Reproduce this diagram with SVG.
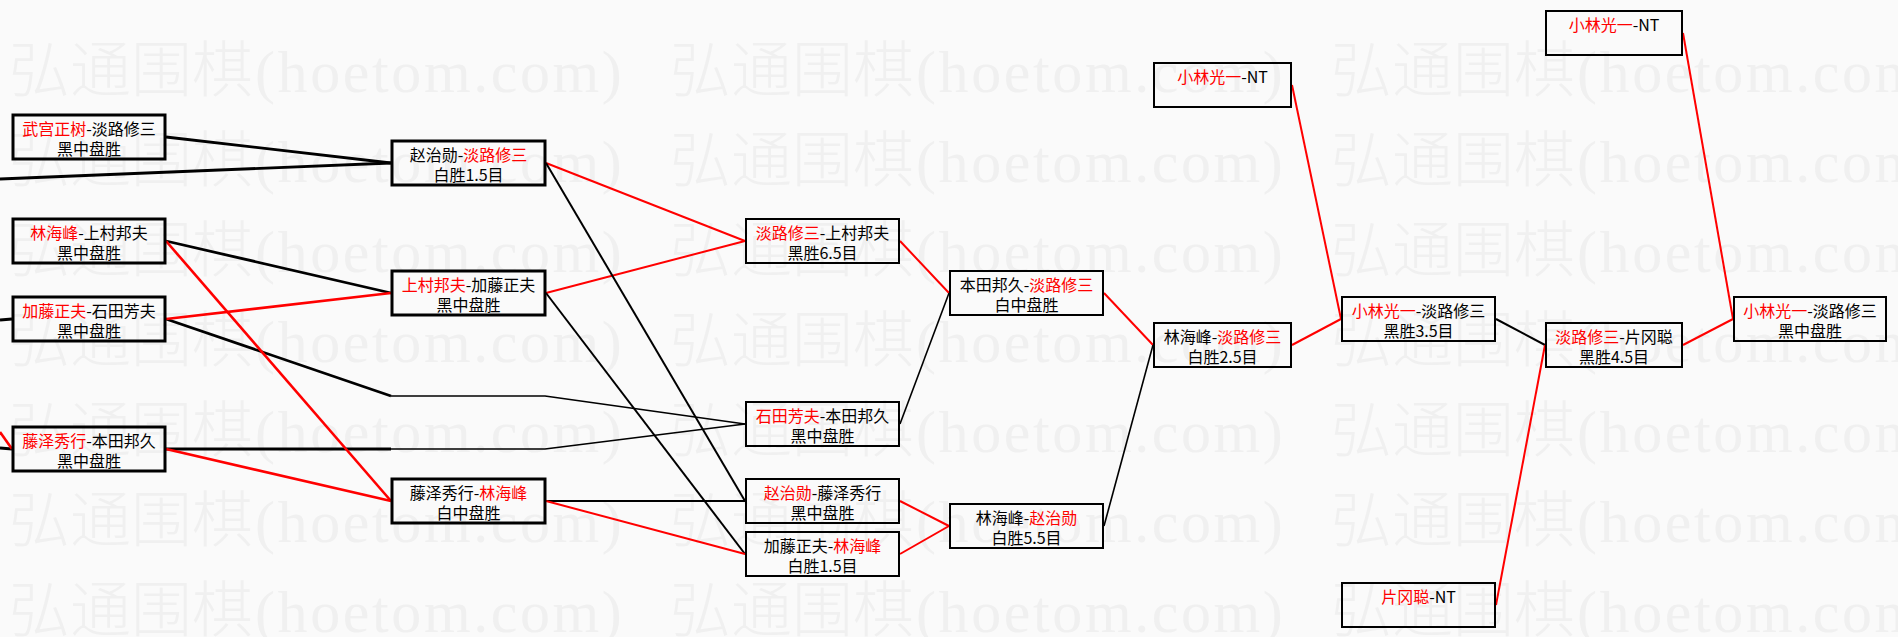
<svg xmlns="http://www.w3.org/2000/svg" xmlns:xlink="http://www.w3.org/1999/xlink" width="1898" height="637" viewBox="0 0 1898 637">
<style>
.bg{fill:#fafafa}
.wmc{font-family:"Noto Sans CJK SC",sans-serif;font-weight:300;font-size:61px;fill:#f0f0f0}
.wml{font-family:"Liberation Serif",serif;font-size:60px;letter-spacing:2.6px;fill:#f0f0f0}
.box{fill:none;stroke:#000;stroke-width:2}
.box3{fill:none;stroke:#000;stroke-width:3}
.t{font-family:"Noto Sans CJK SC",sans-serif;font-size:16px;fill:#000;text-anchor:middle}
.red{fill:#ff0000}
.c{fill:none;stroke-linejoin:round}
.k3{stroke:#000;stroke-width:2.8}
.k2{stroke:#000;stroke-width:2}
.k1{stroke:#000;stroke-width:1.6}
.r3{stroke:#ff0000;stroke-width:2.6}
.r2{stroke:#ff0000;stroke-width:2}
</style>
<defs>
<g id="wm">
<text class="wmc" x="0" y="0">弘通围棋</text>
<text class="wml" x="246" y="0">(hoetom.com)</text>
</g>
</defs>
<rect class="bg" x="0" y="0" width="1898" height="637"/>
<g id="watermark">
<use xlink:href="#wm" x="9" y="92"/><use xlink:href="#wm" x="670" y="92"/><use xlink:href="#wm" x="1331" y="92"/>
<use xlink:href="#wm" x="9" y="182"/><use xlink:href="#wm" x="670" y="182"/><use xlink:href="#wm" x="1331" y="182"/>
<use xlink:href="#wm" x="9" y="272"/><use xlink:href="#wm" x="670" y="272"/><use xlink:href="#wm" x="1331" y="272"/>
<use xlink:href="#wm" x="9" y="362"/><use xlink:href="#wm" x="670" y="362"/><use xlink:href="#wm" x="1331" y="362"/>
<use xlink:href="#wm" x="9" y="452"/><use xlink:href="#wm" x="670" y="452"/><use xlink:href="#wm" x="1331" y="452"/>
<use xlink:href="#wm" x="9" y="542"/><use xlink:href="#wm" x="670" y="542"/><use xlink:href="#wm" x="1331" y="542"/>
<use xlink:href="#wm" x="9" y="632"/><use xlink:href="#wm" x="670" y="632"/><use xlink:href="#wm" x="1331" y="632"/>
</g>
<g id="connectors" class="c">
<line class="k3" x1="166" y1="137" x2="391" y2="163"/>
<line class="k3" x1="0" y1="179" x2="391" y2="163"/>
<line class="k3" x1="166" y1="241" x2="391" y2="293"/>
<line class="k3" x1="0" y1="320" x2="12" y2="319"/>
<line class="k3" x1="0" y1="448" x2="12" y2="449"/>
<line class="r3" x1="0" y1="432" x2="12" y2="449"/>
<line class="k3" x1="166" y1="319" x2="391" y2="396"/>
<polyline class="k1" points="391,396 545,396 745,424"/>
<line class="k3" x1="166" y1="449" x2="391" y2="449"/>
<polyline class="k1" points="391,449 545,449 745,424"/>
<line class="r3" x1="166" y1="319" x2="391" y2="293"/>
<line class="r3" x1="166" y1="241" x2="391" y2="501"/>
<line class="r3" x1="166" y1="449" x2="391" y2="501"/>
<line class="r2" x1="546" y1="163" x2="745" y2="241"/>
<line class="r2" x1="546" y1="293" x2="745" y2="241"/>
<line class="k2" x1="546" y1="163" x2="745" y2="501"/>
<line class="k2" x1="546" y1="293" x2="745" y2="554"/>
<line class="k2" x1="546" y1="501" x2="745" y2="501"/>
<line class="r2" x1="546" y1="501" x2="745" y2="554"/>
<line class="r2" x1="900" y1="241" x2="949" y2="293"/>
<line class="k1" x1="900" y1="424" x2="949" y2="293"/>
<line class="r2" x1="900" y1="501" x2="949" y2="526"/>
<line class="r2" x1="900" y1="554" x2="949" y2="526"/>
<line class="r2" x1="1104" y1="293" x2="1153" y2="345"/>
<line class="k1" x1="1104" y1="526" x2="1153" y2="345"/>
<line class="r2" x1="1292" y1="85" x2="1341" y2="319"/>
<line class="r2" x1="1292" y1="345" x2="1341" y2="319"/>
<line class="k2" x1="1496" y1="319" x2="1545" y2="345"/>
<line class="r2" x1="1496" y1="605" x2="1545" y2="345"/>
<line class="r2" x1="1683" y1="33" x2="1733" y2="319"/>
<line class="r2" x1="1683" y1="345" x2="1733" y2="319"/>
</g>
<g id="nA"><rect class="box3" x="13" y="115" width="152" height="44"/><text class="t"><tspan x="89" y="134.5"><tspan class="red">武宫正树</tspan>-淡路修三</tspan><tspan x="89" y="154.5">黑中盘胜</tspan></text></g>
<g id="nB"><rect class="box3" x="13" y="219" width="152" height="44"/><text class="t"><tspan x="89" y="238.5"><tspan class="red">林海峰</tspan>-上村邦夫</tspan><tspan x="89" y="258.5">黑中盘胜</tspan></text></g>
<g id="nC"><rect class="box3" x="13" y="297" width="152" height="44"/><text class="t"><tspan x="89" y="316.5"><tspan class="red">加藤正夫</tspan>-石田芳夫</tspan><tspan x="89" y="336.5">黑中盘胜</tspan></text></g>
<g id="nD"><rect class="box3" x="13" y="427" width="152" height="44"/><text class="t"><tspan x="89" y="446.5"><tspan class="red">藤泽秀行</tspan>-本田邦久</tspan><tspan x="89" y="466.5">黑中盘胜</tspan></text></g>
<g id="nE"><rect class="box3" x="392" y="141" width="153" height="44"/><text class="t"><tspan x="468.5" y="160.5">赵治勋-<tspan class="red">淡路修三</tspan></tspan><tspan x="468.5" y="180.5">白胜1.5目</tspan></text></g>
<g id="nF"><rect class="box3" x="392" y="271" width="153" height="44"/><text class="t"><tspan x="468.5" y="290.5"><tspan class="red">上村邦夫</tspan>-加藤正夫</tspan><tspan x="468.5" y="310.5">黑中盘胜</tspan></text></g>
<g id="nG"><rect class="box3" x="392" y="479" width="153" height="44"/><text class="t"><tspan x="468.5" y="498.5">藤泽秀行-<tspan class="red">林海峰</tspan></tspan><tspan x="468.5" y="518.5">白中盘胜</tspan></text></g>
<g id="nH"><rect class="box" x="746" y="219" width="153" height="44"/><text class="t"><tspan x="822.5" y="238.5"><tspan class="red">淡路修三</tspan>-上村邦夫</tspan><tspan x="822.5" y="258.5">黑胜6.5目</tspan></text></g>
<g id="nI"><rect class="box" x="746" y="402" width="153" height="44"/><text class="t"><tspan x="822.5" y="421.5"><tspan class="red">石田芳夫</tspan>-本田邦久</tspan><tspan x="822.5" y="441.5">黑中盘胜</tspan></text></g>
<g id="nJ"><rect class="box" x="746" y="479" width="153" height="44"/><text class="t"><tspan x="822.5" y="498.5"><tspan class="red">赵治勋</tspan>-藤泽秀行</tspan><tspan x="822.5" y="518.5">黑中盘胜</tspan></text></g>
<g id="nK"><rect class="box" x="746" y="532" width="153" height="44"/><text class="t"><tspan x="822.5" y="551.5">加藤正夫-<tspan class="red">林海峰</tspan></tspan><tspan x="822.5" y="571.5">白胜1.5目</tspan></text></g>
<g id="nL"><rect class="box" x="950" y="271" width="153" height="44"/><text class="t"><tspan x="1026.5" y="290.5">本田邦久-<tspan class="red">淡路修三</tspan></tspan><tspan x="1026.5" y="310.5">白中盘胜</tspan></text></g>
<g id="nM"><rect class="box" x="950" y="504" width="153" height="44"/><text class="t"><tspan x="1026.5" y="523.5">林海峰-<tspan class="red">赵治勋</tspan></tspan><tspan x="1026.5" y="543.5">白胜5.5目</tspan></text></g>
<g id="nN"><rect class="box" x="1154" y="63" width="137" height="44"/><text class="t" x="1222.5" y="82.5"><tspan class="red">小林光一</tspan>-NT</text></g>
<g id="nO"><rect class="box" x="1154" y="323" width="137" height="44"/><text class="t"><tspan x="1222.5" y="342.5">林海峰-<tspan class="red">淡路修三</tspan></tspan><tspan x="1222.5" y="362.5">白胜2.5目</tspan></text></g>
<g id="nP"><rect class="box" x="1342" y="297" width="153" height="44"/><text class="t"><tspan x="1418.5" y="316.5"><tspan class="red">小林光一</tspan>-淡路修三</tspan><tspan x="1418.5" y="336.5">黑胜3.5目</tspan></text></g>
<g id="nQ"><rect class="box" x="1342" y="583" width="153" height="44"/><text class="t" x="1418.5" y="602.5"><tspan class="red">片冈聪</tspan>-NT</text></g>
<g id="nR"><rect class="box" x="1546" y="323" width="136" height="44"/><text class="t"><tspan x="1614" y="342.5"><tspan class="red">淡路修三</tspan>-片冈聪</tspan><tspan x="1614" y="362.5">黑胜4.5目</tspan></text></g>
<g id="nS"><rect class="box" x="1546" y="11" width="136" height="44"/><text class="t" x="1614" y="30.5"><tspan class="red">小林光一</tspan>-NT</text></g>
<g id="nT"><rect class="box" x="1734" y="297" width="152" height="44"/><text class="t"><tspan x="1810" y="316.5"><tspan class="red">小林光一</tspan>-淡路修三</tspan><tspan x="1810" y="336.5">黑中盘胜</tspan></text></g>
</svg>
